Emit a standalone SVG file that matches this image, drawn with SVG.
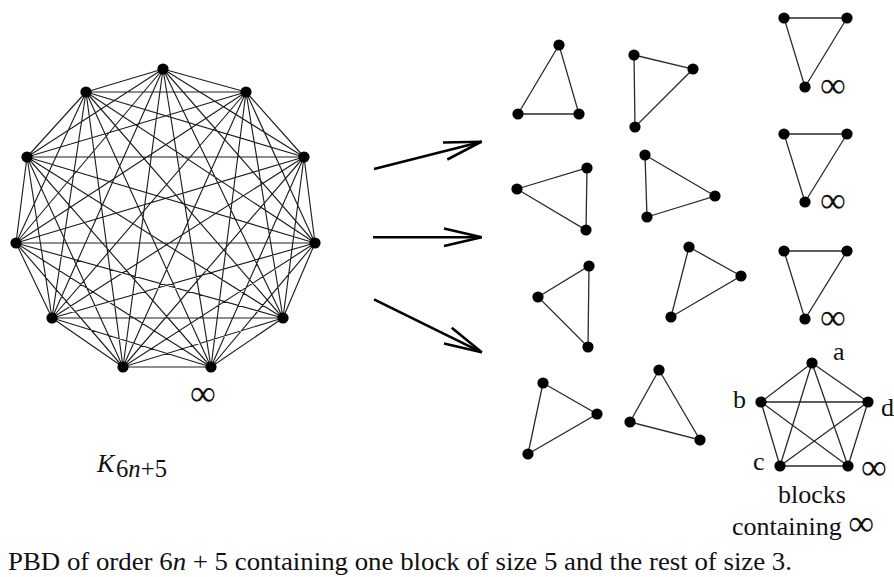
<svg xmlns="http://www.w3.org/2000/svg" width="894" height="577" viewBox="0 0 894 577">
  <style>
    .edge { stroke: #1e1e1e; stroke-width: 1.15; fill: none; }
    .blk { stroke: #2a2a2a; stroke-width: 1.3; fill: none; }
    .dot { fill: #000; }
    .arrow { stroke: #000; stroke-width: 2.6; fill: none; }
    .txt { font-family: "Liberation Serif", "Times New Roman", serif; font-size: 26px; fill: #111; }
    .inf { font-family: "Liberation Serif", "Times New Roman", serif; font-size: 36px; fill: #111; }
  </style>
  <defs>
    <marker id="openHead" markerUnits="userSpaceOnUse" orient="auto" markerWidth="50" markerHeight="30" refX="0" refY="0" viewBox="-45 -15 50 30" overflow="visible">
      <path d="M -37.7 -8.8 L 0 0 L -37.7 8.8" stroke="#000" stroke-width="2.6" fill="none" stroke-linejoin="miter"/>
    </marker>
    <circle id="v" r="5.6" class="dot"/>
  </defs>
  <rect width="894" height="577" fill="#fff"/>

  <!-- complete graph on 11 vertices: edges -->
  <g id="k11-edges">
    <path class="edge" d="M163 69L246 92M163 69L304 157M163 69L315 243M163 69L283 318M163 69L211 367M163 69L123 367M163 69L52 318M163 69L16 243M163 69L27 157M163 69L86 92
      M246 92L304 157M246 92L315 243M246 92L283 318M246 92L211 367M246 92L123 367M246 92L52 318M246 92L16 243M246 92L27 157M246 92L86 92
      M304 157L315 243M304 157L283 318M304 157L211 367M304 157L123 367M304 157L52 318M304 157L16 243M304 157L27 157M304 157L86 92
      M315 243L283 318M315 243L211 367M315 243L123 367M315 243L52 318M315 243L16 243M315 243L27 157M315 243L86 92
      M283 318L211 367M283 318L123 367M283 318L52 318M283 318L16 243M283 318L27 157M283 318L86 92
      M211 367L123 367M211 367L52 318M211 367L16 243M211 367L27 157M211 367L86 92
      M123 367L52 318M123 367L16 243M123 367L27 157M123 367L86 92
      M52 318L16 243M52 318L27 157M52 318L86 92
      M16 243L27 157M16 243L86 92
      M27 157L86 92"/>
  </g>

  <!-- complete graph on 11 vertices: vertices -->
  <g id="k11-v0"><use href="#v" x="163" y="69"/></g>
  <g id="k11-v1"><use href="#v" x="246" y="92"/></g>
  <g id="k11-v2"><use href="#v" x="304" y="157"/></g>
  <g id="k11-v3"><use href="#v" x="315" y="243"/></g>
  <g id="k11-v4"><use href="#v" x="283" y="318"/></g>
  <g id="k11-inf"><use href="#v" x="211" y="367"/><text class="inf" x="190" y="405">∞</text></g>
  <g id="k11-v6"><use href="#v" x="123" y="367"/></g>
  <g id="k11-v7"><use href="#v" x="52" y="318"/></g>
  <g id="k11-v8"><use href="#v" x="16" y="243"/></g>
  <g id="k11-v9"><use href="#v" x="27" y="157"/></g>
  <g id="k11-v10"><use href="#v" x="86" y="92"/></g>

  <g id="k11-label">
    <text class="txt" x="97" y="472" font-style="italic">K</text>
    <text class="txt" x="116" y="477" font-size="22" textLength="51" lengthAdjust="spacingAndGlyphs">6<tspan font-style="italic">n</tspan>+5</text>
  </g>

  <!-- decomposition arrows -->
  <g id="arrows">
    <line class="arrow" x1="374" y1="169" x2="481.7" y2="141.7" marker-end="url(#openHead)"/>
    <line class="arrow" x1="373" y1="237.3" x2="481.7" y2="237.3" marker-end="url(#openHead)"/>
    <line class="arrow" x1="374" y1="299.3" x2="481.7" y2="352.3" marker-end="url(#openHead)"/>
  </g>

  <!-- triples not containing infinity -->
  <g id="block-1"><path class="blk" d="M559 45L518 114L579 114Z"/><use href="#v" x="559" y="45"/><use href="#v" x="518" y="114"/><use href="#v" x="579" y="114"/></g>
  <g id="block-2"><path class="blk" d="M634 55L693 69L635 127Z"/><use href="#v" x="634" y="55"/><use href="#v" x="693" y="69"/><use href="#v" x="635" y="127"/></g>
  <g id="block-4"><path class="blk" d="M517 189L587 168L586 230Z"/><use href="#v" x="517" y="189"/><use href="#v" x="587" y="168"/><use href="#v" x="586" y="230"/></g>
  <g id="block-5"><path class="blk" d="M645 155L715 196L647 217Z"/><use href="#v" x="645" y="155"/><use href="#v" x="715" y="196"/><use href="#v" x="647" y="217"/></g>
  <g id="block-7"><path class="blk" d="M538 297L589 266L588 347Z"/><use href="#v" x="538" y="297"/><use href="#v" x="589" y="266"/><use href="#v" x="588" y="347"/></g>
  <g id="block-8"><path class="blk" d="M689 247L741 276L671 317Z"/><use href="#v" x="689" y="247"/><use href="#v" x="741" y="276"/><use href="#v" x="671" y="317"/></g>
  <g id="block-10"><path class="blk" d="M543 383L597 414L528 454Z"/><use href="#v" x="543" y="383"/><use href="#v" x="597" y="414"/><use href="#v" x="528" y="454"/></g>
  <g id="block-11"><path class="blk" d="M659 370L630 422L700 440Z"/><use href="#v" x="659" y="370"/><use href="#v" x="630" y="422"/><use href="#v" x="700" y="440"/></g>

  <!-- triples containing infinity -->
  <g id="block-3"><path class="blk" d="M784 18L847 18L805 87Z"/><use href="#v" x="784" y="18"/><use href="#v" x="847" y="18"/><use href="#v" x="805" y="87"/><text class="inf" x="820" y="97">∞</text></g>
  <g id="block-6"><path class="blk" d="M784 134L847 134L805 202Z"/><use href="#v" x="784" y="134"/><use href="#v" x="847" y="134"/><use href="#v" x="805" y="202"/><text class="inf" x="820" y="212">∞</text></g>
  <g id="block-9"><path class="blk" d="M784 251L847 251L805 319Z"/><use href="#v" x="784" y="251"/><use href="#v" x="847" y="251"/><use href="#v" x="805" y="319"/><text class="inf" x="820" y="329">∞</text></g>

  <!-- the block of size 5 -->
  <g id="block-5set">
    <path class="blk" d="M812 363L761 402M812 363L868 402M812 363L780 466M812 363L848 466M761 402L868 402M761 402L780 466M761 402L848 466M868 402L780 466M868 402L848 466M780 466L848 466"/>
    <use href="#v" x="812" y="363"/><use href="#v" x="761" y="402"/><use href="#v" x="868" y="402"/><use href="#v" x="780" y="466"/><use href="#v" x="848" y="466"/>
    <text class="txt" x="833" y="360">a</text>
    <text class="txt" x="733" y="408">b</text>
    <text class="txt" x="881" y="416">d</text>
    <text class="txt" x="753" y="470">c</text>
    <text class="inf" x="861" y="479">∞</text>
  </g>

  <g id="caption-inf">
    <text class="txt" x="812" y="503" text-anchor="middle">blocks</text>
    <text class="txt" x="732" y="535">containing <tspan class="inf">∞</tspan></text>
  </g>

  <text id="caption" class="txt" x="8" y="570" textLength="784" lengthAdjust="spacingAndGlyphs">PBD of order 6<tspan font-style="italic">n</tspan> + 5 containing one block of size 5 and the rest of size 3.</text>
</svg>
